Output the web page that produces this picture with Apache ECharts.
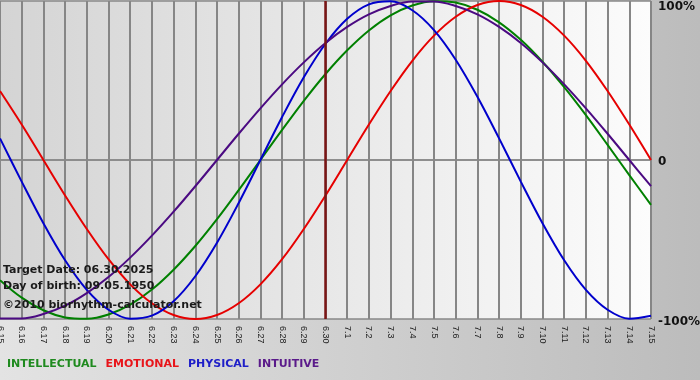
<!DOCTYPE html>
<html><head><meta charset="utf-8">
<script src="https://cdn.jsdelivr.net/npm/echarts@6/dist/echarts.min.js"></script>
<style>html,body{margin:0;padding:0;}
#c{width:700px;height:380px;background:linear-gradient(to right,#e3e3e3,#bcbcbc);}</style>
</head><body><div id="c"></div>
<script>
const dates = ['6.15','6.16','6.17','6.18','6.19','6.20','6.21','6.22','6.23','6.24','6.25','6.26','6.27','6.28','6.29','6.30',
  '7.1','7.2','7.3','7.4','7.5','7.6','7.7','7.8','7.9','7.10','7.11','7.12','7.13','7.14','7.15'];
const intellectual = [-0.756,-0.866,-0.945,-0.990,-0.999,-0.972,-0.910,-0.815,-0.690,-0.541,-0.372,-0.189,0,0.189,0.372,0.541,
  0.690,0.815,0.910,0.972,0.999,0.990,0.945,0.866,0.756,0.618,0.458,0.282,0.095,-0.095,-0.282];
const emotional = [0.434,0.223,0,-0.223,-0.434,-0.624,-0.782,-0.901,-0.975,-1.0,-0.975,-0.901,-0.782,-0.624,-0.434,-0.223,
  0,0.223,0.434,0.624,0.782,0.901,0.975,1.0,0.975,0.901,0.782,0.624,0.434,0.223,0];
const physical = [0.136,-0.136,-0.398,-0.631,-0.817,-0.942,-0.998,-0.979,-0.888,-0.731,-0.520,-0.270,0,0.270,0.520,0.731,
  0.888,0.979,0.998,0.942,0.817,0.631,0.398,0.136,-0.136,-0.398,-0.631,-0.817,-0.942,-0.998,-0.979];
const intuitive = [-0.997,-0.997,-0.969,-0.916,-0.837,-0.736,-0.614,-0.476,-0.325,-0.165,0,0.165,0.325,0.476,0.614,0.736,
  0.837,0.916,0.969,0.997,0.997,0.969,0.916,0.837,0.736,0.614,0.476,0.325,0.165,0,-0.165];
const yTickLabels = {'1':'100%','0':'0','-1':'-100%'};
const targetDate = '6.30';
const infoLines = ['Target Date: 06.30.2025','Day of birth: 09.05.1950','\u00a92010 biorhythm-calculator.net'];

const chart = echarts.init(document.getElementById('c'), null, {renderer:'canvas'});
const boldFont = {fontFamily:'DejaVu Sans', fontWeight:'bold', fontSize:12, color:'#111'};
function line(name, data, color, extra) {
  return Object.assign({
    name, type:'line', data, smooth:0.35, showSymbol:false, symbol:'none',
    lineStyle:{color, width:2}, itemStyle:{color}, silent:true
  }, extra||{});
}
chart.setOption({
  animation:false,
  grid:{left:0, right:49, top:1, bottom:61, show:true, borderWidth:0, containLabel:false, outerBoundsMode:'none',
    backgroundColor:new echarts.graphic.LinearGradient(0,0,1,0,[{offset:0,color:'#d4d4d4'},{offset:1,color:'#fcfcfc'}])},
  xAxis:{type:'category', data:dates, boundaryGap:false,
    axisLine:{lineStyle:{color:'#888', width:1.5}},
    axisTick:{show:true, interval:0, length:4, lineStyle:{color:'#888'}},
    axisLabel:{interval:0, rotate:-90, margin:7, fontSize:9, fontFamily:'Liberation Sans', color:'#222'},
    splitLine:{show:true, interval:0, lineStyle:{color:'#868686', width:2}}},
  yAxis:{type:'value', min:-1, max:1, interval:1, position:'right',
    axisLine:{show:false}, axisTick:{show:false},
    splitLine:{show:true, lineStyle:{color:'#888', width:1.5}},
    axisLabel:{margin:7, ...boldFont,
      formatter:v => { const s = yTickLabels[String(v)]; return v===1?'{t|'+s+'}':(v===-1?'{b|'+s+'}':'{z|'+s+'}'); },
      rich:{t:{...boldFont, padding:[12,0,0,0]}, b:{...boldFont, padding:[6,0,0,0]}, z:{...boldFont, padding:[3,0,0,0]}}}},
  legend:{left:-3, top:354, icon:'none', itemWidth:0, itemHeight:10, itemGap:4, selectedMode:false,
    textStyle:{fontFamily:'DejaVu Sans', fontWeight:'bold', fontSize:11},
    data:[{name:'INTELLECTUAL', textStyle:{color:'#1f8a1f'}},{name:'EMOTIONAL', textStyle:{color:'#e8141a'}},
      {name:'PHYSICAL', textStyle:{color:'#1e1ec8'}},{name:'INTUITIVE', textStyle:{color:'#5a1a8a'}}]},
  series:[
    line('INTELLECTUAL', intellectual, '#008000', {markLine:{silent:true, symbol:'none', label:{show:false},
      lineStyle:{color:'#7a1515', width:2.5, type:'solid'}, emphasis:{disabled:true}, data:[{xAxis:targetDate}]}}),
    line('EMOTIONAL', emotional, '#e60000'),
    line('PHYSICAL', physical, '#0000cc'),
    line('INTUITIVE', intuitive, '#4b0a82')
  ],
  graphic: infoLines.map((t,i) => ({type:'text', left:3, top:[265,281,300][i], z:100,
    style:{text:t, font:'bold 11px "DejaVu Sans"', fill:'#1a1a1a'}}))
});
</script></body></html>
